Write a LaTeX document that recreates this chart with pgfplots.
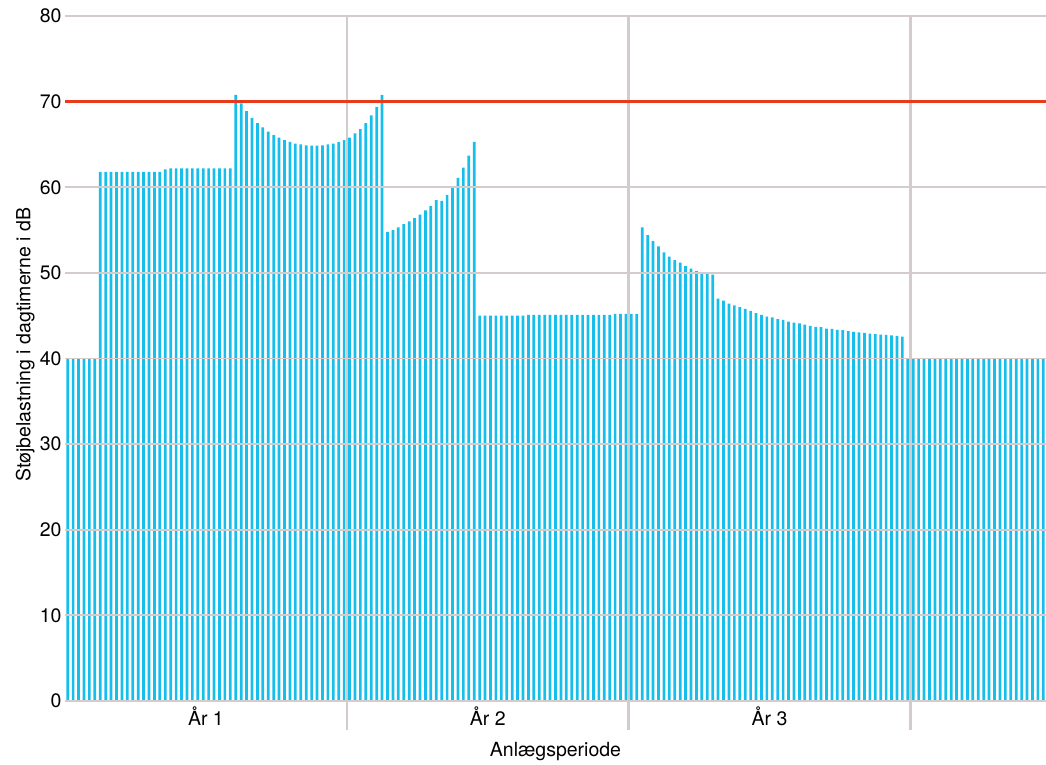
\documentclass[border=0pt]{standalone}
\usepackage{fontspec}
\setmainfont{TeX Gyre Heros}
\usepackage{pgfplots}
\pgfplotsset{compat=1.18}
\definecolor{barblue}{RGB}{22,190,236}
\definecolor{gridgray}{RGB}{212,204,204}
\definecolor{limitred}{RGB}{230,60,28}
\begin{document}
\begin{tikzpicture}
\begin{axis}[
  set layers,
  axis on top,
  scale only axis,
  width=981pt, height=685pt,
  xmin=-0.5, xmax=180.5,
  ymin=0, ymax=80,
  ytick={0,10,...,80},
  xtick={25.5,77.5,129.5},
  xticklabels={År 1,År 2,År 3},
  extra x ticks={51.5,103.5,155.5},
  extra x tick labels={},
  extra x tick style={grid=major, major tick length=29pt, tick align=outside,
     tick style={draw=gridgray, line width=2.4pt},
     major grid style={draw=gridgray, line width=2.4pt}},
  major tick length=0pt,
  ymajorgrids,
  major grid style={draw=gridgray, line width=1.8pt},
  axis x line*=bottom, axis y line*=left,
  axis line style={draw=none},
  /pgf/number format/assume math mode=true,
  every tick label/.append style={font=\fontsize{19.5}{23}\selectfont, text=black},
  xlabel={Anlægsperiode},
  ylabel={Støjbelastning i dagtimerne i dB},
  label style={font=\fontsize{19.5}{23}\selectfont},
  xlabel style={at={(axis description cs:0.5,0)}, anchor=north, yshift=-38pt},
  ylabel style={at={(axis description cs:-0.0405,0.52)}, anchor=center},
  xticklabel style={yshift=-2pt},
]
\addplot[ybar, bar width=0.5, fill=barblue, draw=none] table[x=w, y=v] {
w v
0 40
1 40
2 40
3 40
4 40
5 40
6 61.8
7 61.8
8 61.8
9 61.8
10 61.8
11 61.8
12 61.8
13 61.8
14 61.8
15 61.8
16 61.8
17 61.8
18 62.1
19 62.2
20 62.2
21 62.2
22 62.2
23 62.2
24 62.2
25 62.2
26 62.2
27 62.2
28 62.2
29 62.2
30 62.2
31 70.8
32 69.8
33 68.9
34 68.1
35 67.5
36 67.0
37 66.5
38 66.1
39 65.8
40 65.5
41 65.3
42 65.1
43 65.0
44 64.9
45 64.85
46 64.85
47 64.9
48 65.0
49 65.1
50 65.3
51 65.5
52 65.8
53 66.3
54 66.8
55 67.5
56 68.4
57 69.4
58 70.8
59 54.8
60 55.0
61 55.3
62 55.7
63 56.0
64 56.4
65 56.8
66 57.3
67 57.8
68 58.5
69 58.4
70 59.1
71 59.9
72 61.1
73 62.3
74 63.7
75 65.3
76 45.0
77 45.0
78 45.0
79 45.0
80 45.0
81 45.0
82 45.0
83 45.0
84 45.0
85 45.1
86 45.1
87 45.1
88 45.1
89 45.1
90 45.1
91 45.1
92 45.1
93 45.1
94 45.1
95 45.1
96 45.1
97 45.1
98 45.1
99 45.1
100 45.1
101 45.2
102 45.2
103 45.2
104 45.2
105 45.2
106 55.3
107 54.4
108 53.7
109 53.1
110 52.4
111 51.9
112 51.5
113 51.2
114 50.8
115 50.5
116 50.2
117 49.9
118 49.9
119 49.8
120 47.0
121 46.75
122 46.4
123 46.2
124 46.0
125 45.8
126 45.55
127 45.3
128 45.1
129 44.9
130 44.8
131 44.6
132 44.5
133 44.3
134 44.2
135 44.1
136 43.95
137 43.8
138 43.7
139 43.65
140 43.5
141 43.45
142 43.35
143 43.3
144 43.2
145 43.1
146 43.05
147 43.0
148 42.9
149 42.85
150 42.8
151 42.75
152 42.7
153 42.65
154 42.55
155 40
156 40
157 40
158 40
159 40
160 40
161 40
162 40
163 40
164 40
165 40
166 40
167 40
168 40
169 40
170 40
171 40
172 40
173 40
174 40
175 40
176 40
177 40
178 40
179 40
180 40
};
\addplot[limitred, line width=2.8pt, on layer=axis foreground] coordinates {(-0.5,70) (180.5,70)};
\end{axis}
\pgfresetboundingbox
\useasboundingbox (-65pt,-64pt) rectangle (981pt,701pt);
\end{tikzpicture}
\end{document}
